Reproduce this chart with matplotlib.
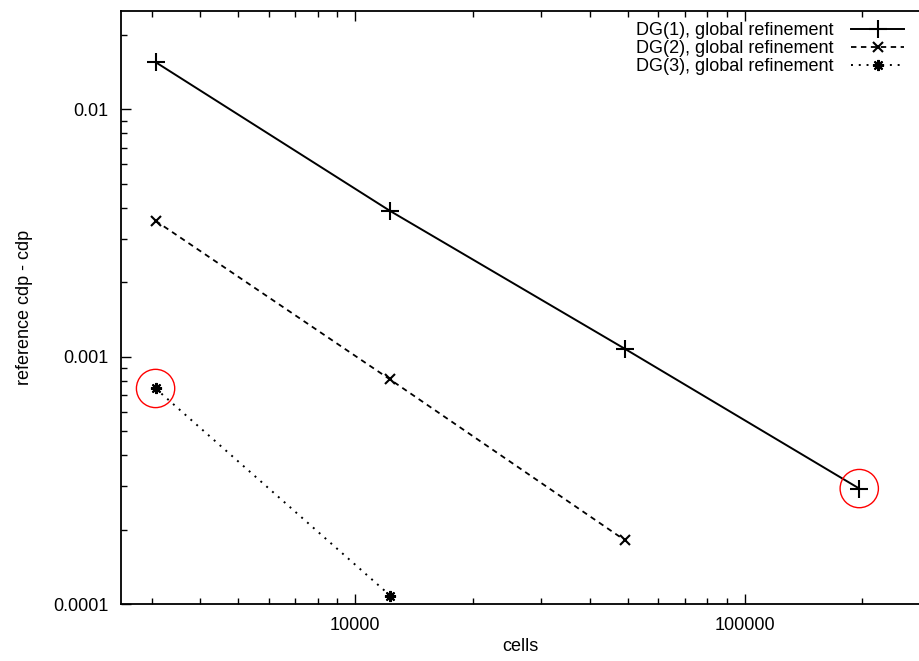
import numpy as np
import matplotlib
matplotlib.use("Agg")
import matplotlib.pyplot as plt
from matplotlib.ticker import FixedLocator, LogLocator, NullFormatter

plt.rcParams['font.family'] = ['Liberation Sans', 'DejaVu Sans']

# data
cells = [3072, 12288, 49152, 196608]
dg1_err = [0.01553, 0.00389, 0.00108, 0.000294]
dg2_err = [0.00355, 0.000811, 0.000182]
dg3_err = [0.000746, 0.0001087]
labels = ["DG(1), global refinement", "DG(2), global refinement", "DG(3), global refinement"]

# points that are circled in red
circled_x = [cells[0], cells[3]]
circled_y = [dg3_err[0], dg1_err[3]]

fig = plt.figure(figsize=(9.2, 6.61), dpi=100)
ax = fig.add_axes([0.1312, 0.0855, 0.8678, 0.8979])

ax.plot(cells, dg1_err, color='black', lw=1.4, ls='-', marker='+', ms=13, mew=1.5, label=labels[0])
ax.plot(cells[:3], dg2_err, color='black', lw=1.3, ls=(0, (3, 2.5)), marker='x', ms=7, mew=1.5, label=labels[1])
ax.plot(cells[:2], dg3_err, color='black', lw=1.4, ls=(0, (1, 3)), marker=(8, 2, 0), ms=8, mew=1.5, label=labels[2])

ax.scatter(circled_x, circled_y, s=760, facecolors='none', edgecolors='red', linewidths=1.0, zorder=5)

ax.set_xscale('log')
ax.set_yscale('log')
ax.set_xlim(2500, 280000)
ax.set_ylim(0.0001, 0.025)

ax.xaxis.set_major_locator(FixedLocator([10000, 100000]))
ax.xaxis.set_minor_locator(LogLocator(base=10, subs=np.arange(2, 10)))
ax.xaxis.set_minor_formatter(NullFormatter())
ax.set_xticklabels(['10000', '100000'])
ax.yaxis.set_major_locator(FixedLocator([0.0001, 0.001, 0.01]))
ax.yaxis.set_minor_locator(LogLocator(base=10, subs=np.arange(2, 10)))
ax.yaxis.set_minor_formatter(NullFormatter())
ax.set_yticklabels(['0.0001', '0.001', '0.01'])

ax.tick_params(which='both', direction='in', top=True, right=False, labelsize=13, width=1.0)
ax.tick_params(which='major', length=7, pad=9)
ax.tick_params(which='minor', length=4)
for sp in ax.spines.values():
    sp.set_linewidth(1.3)
ax.spines['right'].set_visible(False)

ax.set_xlabel('cells', fontsize=13, labelpad=3)
ax.set_ylabel('reference cdp - cdp', fontsize=13, labelpad=14)

ax.legend(loc='upper right', frameon=False, markerfirst=False, fontsize=13,
          handlelength=2.9, handletextpad=1.0, labelspacing=0.05,
          borderaxespad=0.0, bbox_to_anchor=(911 / 920, 1 - 15 / 661),
          bbox_transform=fig.transFigure)

fig.savefig('out.png', dpi=100)
